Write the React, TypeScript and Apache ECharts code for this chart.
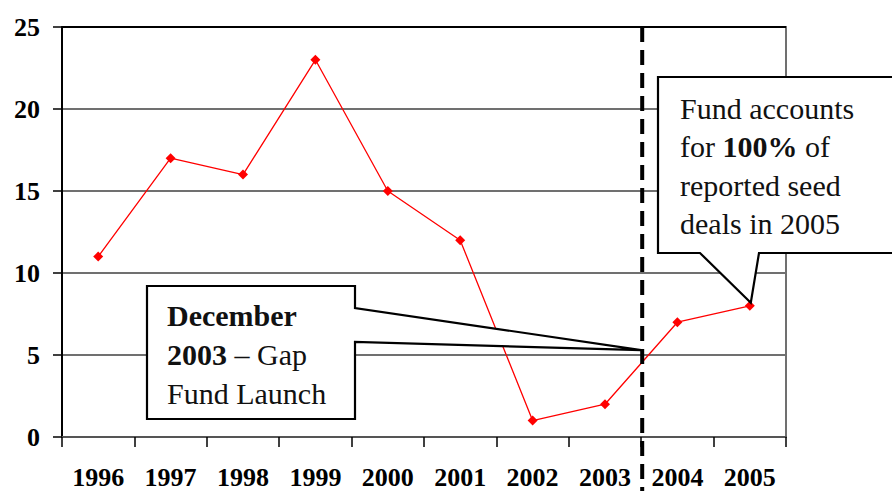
import React, { useEffect, useRef } from "react";
import * as echarts from "echarts";

const years = ["1996", "1997", "1998", "1999", "2000", "2001", "2002", "2003", "2004", "2005"];
const seedDeals = [11, 17, 16, 23, 15, 12, 1, 2, 7, 8];
const yMin = 0;
const yMax = 25;
const yStep = 5;
const launchAfterIndex = 7; // boundary between 2003 and 2004
const launchPointerLevel = 5.3;
const highlightIndex = 9; // 2005

const AXIS_FONT = "Liberation Serif";
const NOTE_FONT = "Liberation Serif";

export default function App() {
  const ref = useRef<HTMLDivElement>(null);

  useEffect(() => {
    const chart = echarts.init(ref.current!, null, { renderer: "svg" });
    chart.setOption({
      animation: false,
      backgroundColor: "#ffffff",
      grid: {
        left: 62,
        right: 106,
        top: 27,
        bottom: 54,
        show: true,
        borderColor: "#707070",
        borderWidth: 2,
        backgroundColor: "transparent",
      },
      xAxis: {
        type: "category",
        data: years,
        boundaryGap: true,
        axisLine: { show: true, lineStyle: { color: "#555", width: 2 } },
        axisTick: { show: true, length: 10, lineStyle: { color: "#000", width: 1.5 } },
        axisLabel: {
          color: "#000",
          fontFamily: AXIS_FONT,
          fontWeight: "bold",
          fontSize: 26,
          margin: 27,
        },
        splitLine: { show: false },
      },
      yAxis: {
        type: "value",
        min: yMin,
        max: yMax,
        interval: yStep,
        axisLine: { show: true, lineStyle: { color: "#000", width: 2 } },
        axisTick: { show: true, length: 9, lineStyle: { color: "#000", width: 1.5 } },
        axisLabel: {
          color: "#000",
          fontFamily: AXIS_FONT,
          fontWeight: "bold",
          fontSize: 26,
          margin: 22,
        },
        splitLine: {
          show: true,
          lineStyle: {
            color: ["#707070", "#707070", "#707070", "#707070", "#707070", "#000000"],
            width: 2,
          },
        },
      },
      series: [
        {
          type: "line",
          data: seedDeals,
          symbol: "diamond",
          symbolSize: 10,
          showSymbol: true,
          itemStyle: { color: "#ff0000" },
          lineStyle: { color: "#ff0000", width: 1.3 },
          z: 3,
        },
      ],
    });

    const px = (i: number, v: number) => chart.convertToPixel({ gridIndex: 0 }, [i, v]) as number[];
    const xA = px(launchAfterIndex, 0)[0];
    const xB = px(launchAfterIndex + 1, 0)[0];
    const boundaryX = (xA + xB) / 2;
    const topY = px(0, yMax)[1];
    const launchTip = [boundaryX, px(0, launchPointerLevel)[1]];
    const hp = px(highlightIndex, seedDeals[highlightIndex]);
    const hlTip = [hp[0] + 1, hp[1] - 3];

    // callout boxes (layout)
    const L = { x1: 147, y1: 286, x2: 355, y2: 419, w1: 308, w2: 342 };
    const R = { x1: 658, y1: 77, x2: 905, y2: 253, w1: 700, w2: 759 };

    const SIZE = 30;
    const normalFont = `normal ${SIZE}px "${NOTE_FONT}", serif`;
    const boldFont = `bold ${SIZE}px "${NOTE_FONT}", serif`;
    const noteStyle = (text: string, lh: number) => ({
      text,
      font: normalFont,
      fontFamily: NOTE_FONT,
      fontSize: SIZE,
      lineHeight: lh,
      fill: "#111",
      rich: {
        n: { font: normalFont, fontFamily: NOTE_FONT, fontSize: SIZE, fontWeight: "normal", lineHeight: lh, fill: "#111" },
        b: { font: boldFont, fontFamily: NOTE_FONT, fontSize: SIZE, fontWeight: "bold", lineHeight: lh, fill: "#111" },
      },
    });

    chart.setOption({
      graphic: [
        {
          type: "polygon",
          z: 100,
          shape: {
            points: [
              [L.x1, L.y1],
              [L.x2, L.y1],
              [L.x2, L.w1],
              launchTip,
              [L.x2, L.w2],
              [L.x2, L.y2],
              [L.x1, L.y2],
            ],
          },
          style: { fill: "#ffffff", stroke: "#000000", lineWidth: 2.2 },
        },
        {
          type: "text",
          z: 101,
          x: 167,
          y: 296,
          style: noteStyle("{b|December}\n{b|2003}{n| – Gap}\n{n|Fund Launch}", 39),
        },
        {
          type: "polygon",
          z: 100,
          shape: {
            points: [
              [R.x1, R.y1],
              [R.x2, R.y1],
              [R.x2, R.y2],
              [R.w2, R.y2],
              hlTip,
              [R.w1, R.y2],
              [R.x1, R.y2],
            ],
          },
          style: { fill: "#ffffff", stroke: "#000000", lineWidth: 2.2 },
        },
        {
          type: "text",
          z: 101,
          x: 680,
          y: 89,
          style: noteStyle("{n|Fund accounts}\n{n|for }{b|100%}{n| of}\n{n|reported seed}\n{n|deals in 2005}", 38.5),
        },
        {
          type: "line",
          z: 110,
          shape: { x1: boundaryX + 1, y1: topY, x2: boundaryX + 1, y2: 491 },
          style: { stroke: "#000000", lineWidth: 4, lineDash: [15, 8] },
        },
      ],
    });

    return () => chart.dispose();
  }, []);

  return <div ref={ref} style={{ position: "absolute", left: 0, top: 0, width: 892, height: 491 }} />;
}
